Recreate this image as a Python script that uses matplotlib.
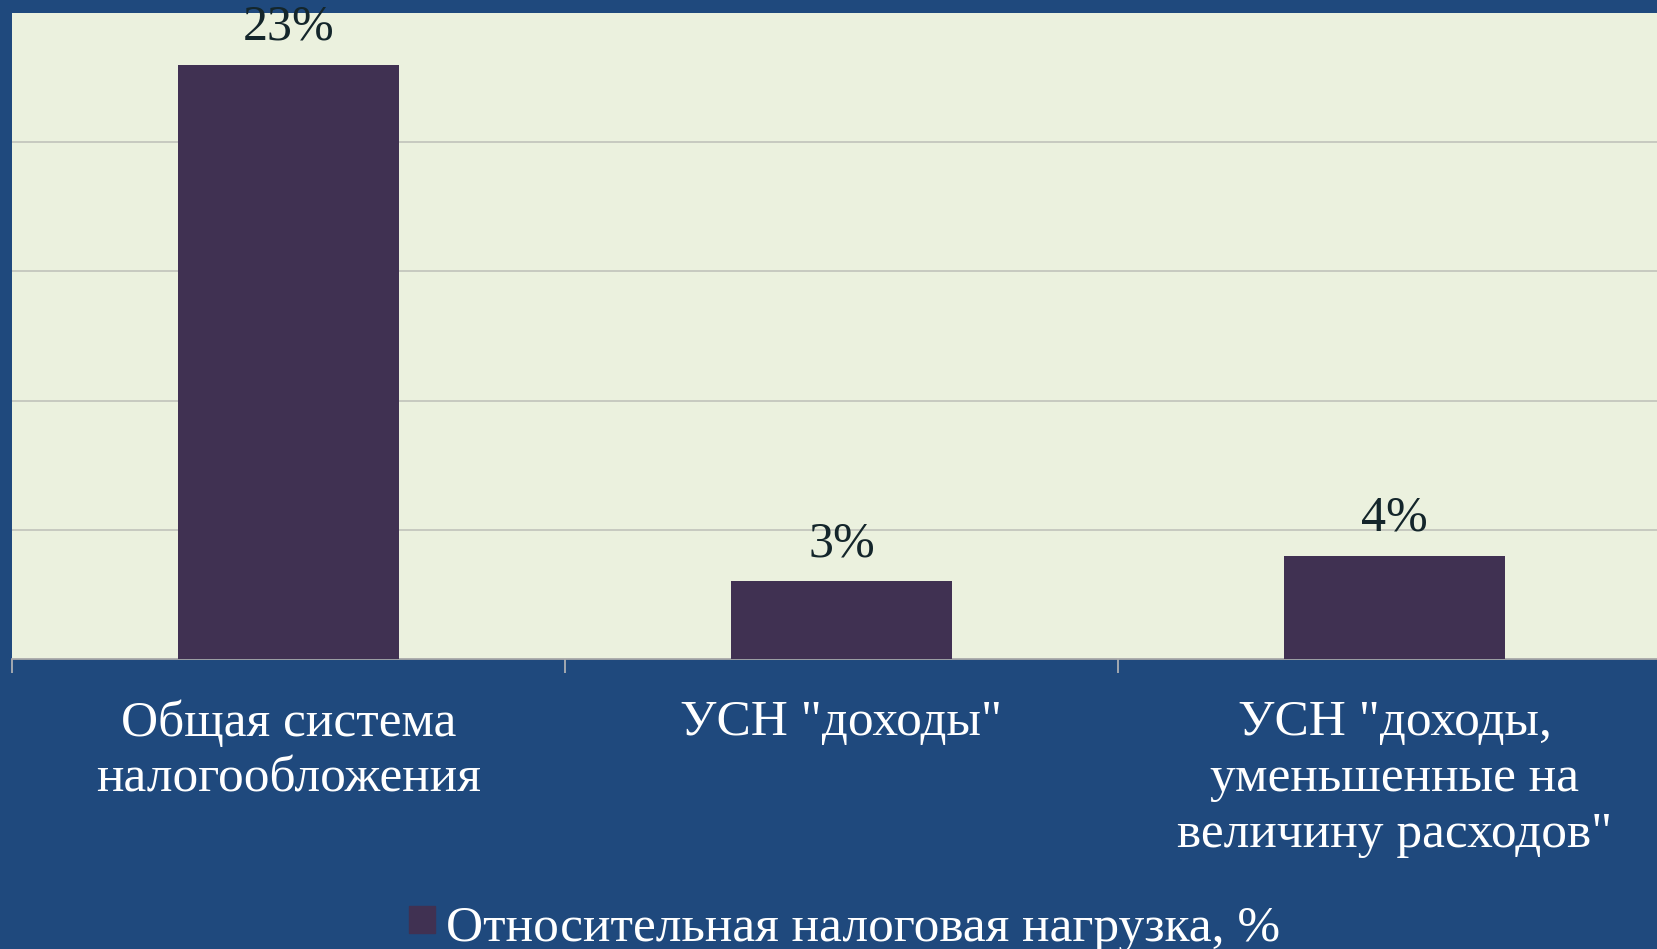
import matplotlib
matplotlib.use('Agg')
from matplotlib import pyplot as plt
from matplotlib.patches import Rectangle

# data
categories = ['Общая система\nналогообложения', 'УСН "доходы"',
              'УСН "доходы,\nуменьшенные на\nвеличину расходов"']
values = [23, 3, 4]
value_labels = ['23%', '3%', '4%']
series_name = 'Относительная налоговая нагрузка, %'

bg_blue = '#1f497d'
plot_bg = '#ebf1de'
bar_col = '#403152'
grid_col = '#c4c6bd'

plt.rcParams['font.family'] = ['Liberation Serif', 'DejaVu Serif']

fig = plt.figure(figsize=(16.58, 9.49), dpi=100)
fig.patch.set_facecolor(bg_blue)
ax = fig.add_axes([12 / 1658, 1 - 659 / 949, 1659 / 1658, (659 - 13) / 949])
ax.set_facecolor(plot_bg)

x = list(range(len(values)))
bars = ax.bar(x, values, width=0.4, color=bar_col, zorder=3, label=series_name)

ax.set_xlim(-0.5, len(values) - 0.5)
ax.set_ylim(0, 25)
ax.set_yticks([5, 10, 15, 20])
ax.yaxis.grid(True, color=grid_col, linewidth=1.3, zorder=0)
ax.tick_params(axis='y', left=False, labelleft=False)

# category boundary ticks below axis
ax.set_xticks([i - 0.5 for i in range(len(values) + 1)])
ax.set_xticklabels([])
ax.tick_params(axis='x', direction='out', length=10, width=1.2, color='#b8b8b8')
for s in ['top', 'right', 'left']:
    ax.spines[s].set_visible(False)
ax.spines['bottom'].set_color('#a8a8a8')
ax.spines['bottom'].set_linewidth(1.3)

for i, (v, lab) in enumerate(zip(values, value_labels)):
    ax.annotate(lab, (i, v), xytext=(0, 18), textcoords='offset points',
                ha='center', va='baseline', fontsize=36, color='#14262b')

for i, cat in enumerate(categories):
    ax.annotate(cat, (i, 0), xytext=(0, -29), textcoords='offset points',
                ha='center', va='top', fontsize=37, color='white',
                linespacing=1.27, annotation_clip=False)

# legend at bottom
fig.patches.append(Rectangle((409 / 1658, 1 - 933 / 949), 26 / 1658, 27 / 949,
                             transform=fig.transFigure, color=bar_col))
fig.text(446 / 1658, 1 - 941 / 949, series_name, fontsize=37, color='white',
         ha='left', va='baseline')

fig.savefig('out.png', dpi=100, facecolor=bg_blue)
